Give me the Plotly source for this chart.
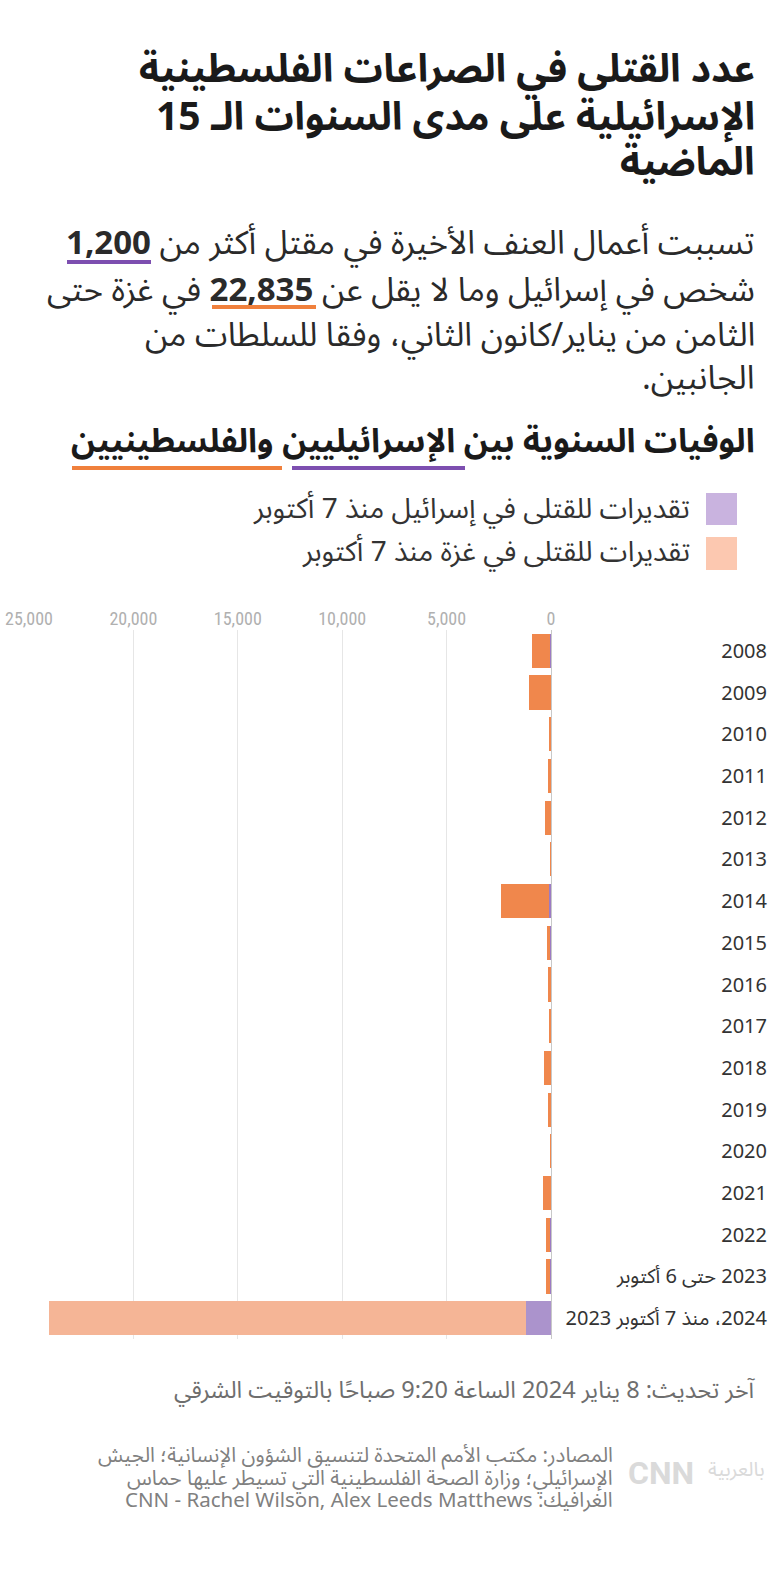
import plotly.graph_objects as go

# ---------------- data ----------------
categories = ["2008", "2009", "2010", "2011", "2012", "2013", "2014", "2015", "2016",
              "2017", "2018", "2019", "2020", "2021", "2022",
              "2023 حتى 6 أكتوبر", "2024، منذ 7 أكتوبر 2023"]
israel_deaths = [35, 9, 10, 11, 7, 4, 88, 26, 13, 15, 14, 10, 3, 11, 30, 29, 1200]
gaza_deaths = [899, 1066, 95, 124, 260, 39, 2329, 174, 109, 77, 300, 137, 30, 349, 191, 227, 22835]
x_ticks = [0, 5000, 10000, 15000, 20000, 25000]

# ---------------- styles ----------------
W, H = 780, 1570
ML, MR, MT, MB = 29, 13, 630, 231
PLOT_RIGHT = 551
PW, PH = W - ML - MR, H - MT - MB
AR = "Noto Sans Arabic, DejaVu Sans, sans-serif"

ORANGE_HIST = "#F0874C"
PURPLE_HIST = "#9C7BC4"
ORANGE_NEW = "#F5B596"
PURPLE_NEW = "#AB93CC"


def px(x):
    return (x - ML) / PW


def py(y):
    return (H - MB - y) / PH


def rtl(s):
    return "\u202b" + s + "\u202c"


n = len(categories)
cat_labels = [rtl(c) if not c.isdigit() else c for c in categories]
isr_colors = [PURPLE_HIST] * (n - 1) + [PURPLE_NEW]
gaza_colors = [ORANGE_HIST] * (n - 1) + [ORANGE_NEW]

fig = go.Figure()
fig.add_trace(go.Bar(y=cat_labels, x=israel_deaths, orientation="h",
                     marker=dict(color=isr_colors, line=dict(width=0)),
                     name="Israel", hoverinfo="x+y"))
fig.add_trace(go.Bar(y=cat_labels, x=gaza_deaths, orientation="h",
                     marker=dict(color=gaza_colors, line=dict(width=0)),
                     name="Gaza", hoverinfo="x+y"))

fig.update_layout(
    width=W, height=H,
    margin=dict(l=ML, r=MR, t=MT, b=MB, pad=0),
    paper_bgcolor="white", plot_bgcolor="white",
    barmode="stack", bargap=0.18,
    showlegend=False,
    font=dict(family=AR, color="#333"),
    xaxis=dict(range=[25000, 0], side="top", tickvals=x_ticks, tickformat=",",
               domain=[0, px(PLOT_RIGHT)], automargin=False,
               showgrid=True, gridcolor="#e6e6e6", gridwidth=1,
               zeroline=True, zerolinecolor="#c8c8c8", zerolinewidth=1,
               showline=False, ticks="",
               tickfont=dict(family="Roboto Condensed, Roboto, Liberation Sans Narrow, sans-serif",
                             size=18, color="#b0b0b0")),
    yaxis=dict(autorange="reversed", anchor="free", position=1.0, side="left",
               automargin=False,
               showgrid=False, zeroline=False, showline=False, ticks="",
               tickfont=dict(family=AR, size=20, color="#333")),
)

ann = []


def text(x, y, s, size, color="#222", bold=False, xanchor="right", family=AR):
    t = rtl(s)
    if bold:
        t = "<b>" + t + "</b>"
    ann.append(dict(x=px(x), y=py(y), xref="paper", yref="paper", text=t,
                    showarrow=False, xanchor=xanchor, yanchor="middle",
                    font=dict(family=family, size=size, color=color)))


# title
text(757, 70, "عدد القتلى في الصراعات الفلسطينية", 39, "#1a1a1a", bold=True)
text(757, 117, "الإسرائيلية على مدى السنوات الـ 15", 39, "#1a1a1a", bold=True)
text(757, 163, "الماضية", 39, "#1a1a1a", bold=True)

# subtitle
text(757, 243, "تسببت أعمال العنف الأخيرة في مقتل أكثر من <b>1,200</b>", 33, "#2a2a2a")
text(757, 290, "شخص في إسرائيل وما لا يقل عن <b>22,835</b> في غزة حتى", 33, "#2a2a2a")
text(757, 335, "الثامن من يناير/كانون الثاني، وفقا للسلطات من", 33, "#2a2a2a")
text(757, 378, "الجانبين.", 33, "#2a2a2a")

# chart heading
text(757, 441, "الوفيات السنوية بين الإسرائيليين والفلسطينيين", 33, "#1a1a1a", bold=True)

# legend
text(692, 509, "تقديرات للقتلى في إسرائيل منذ 7 أكتوبر", 28, "#333")
text(692, 552, "تقديرات للقتلى في غزة منذ 7 أكتوبر", 28, "#333")

# footer
text(757, 1390, "آخر تحديث: 8 يناير 2024 الساعة 9:20 صباحًا بالتوقيت الشرقي", 23.5, "#6e6e6e")
text(615, 1455, "المصادر: مكتب الأمم المتحدة لتنسيق الشؤون الإنسانية؛ الجيش", 20.5, "#808080")
text(615, 1478, "الإسرائيلي؛ وزارة الصحة الفلسطينية التي تسيطر عليها حماس", 20.5, "#808080")
text(615, 1500, "الغرافيك: CNN - Rachel Wilson, Alex Leeds Matthews", 20.5, "#808080")

# logo (approximation)
ann.append(dict(x=px(626), y=py(1473), xref="paper", yref="paper",
                text="<b>CNN</b>", showarrow=False, xanchor="left", yanchor="middle",
                font=dict(family="Liberation Sans Narrow, Roboto, sans-serif", size=32, color="#dadada")))
ann.append(dict(x=px(767), y=py(1470), xref="paper", yref="paper",
                text=rtl("بالعربية"), showarrow=False, xanchor="right", yanchor="middle",
                font=dict(family=AR, size=20, color="#dadada")))

fig.update_layout(annotations=ann)

shapes = []


def line(x0, x1, y, color, w=4):
    shapes.append(dict(type="line", xref="paper", yref="paper", x0=px(x0), x1=px(x1),
                       y0=py(y), y1=py(y), line=dict(color=color, width=w)))


def rect(x0, y0, x1, y1, color):
    shapes.append(dict(type="rect", xref="paper", yref="paper", x0=px(x0), x1=px(x1),
                       y0=py(y0), y1=py(y1), fillcolor=color, line=dict(width=0)))


line(67, 151, 262, "#7D4FB0")
line(212, 316, 307, "#F0803C")
line(292, 465, 468, "#7D4FB0")
line(72, 282, 468, "#F0803C")
rect(706, 493, 737, 525, "#C9B3DF")
rect(706, 537, 737, 570, "#FCC8B0")

fig.update_layout(shapes=shapes)

fig.write_html("out.html")
